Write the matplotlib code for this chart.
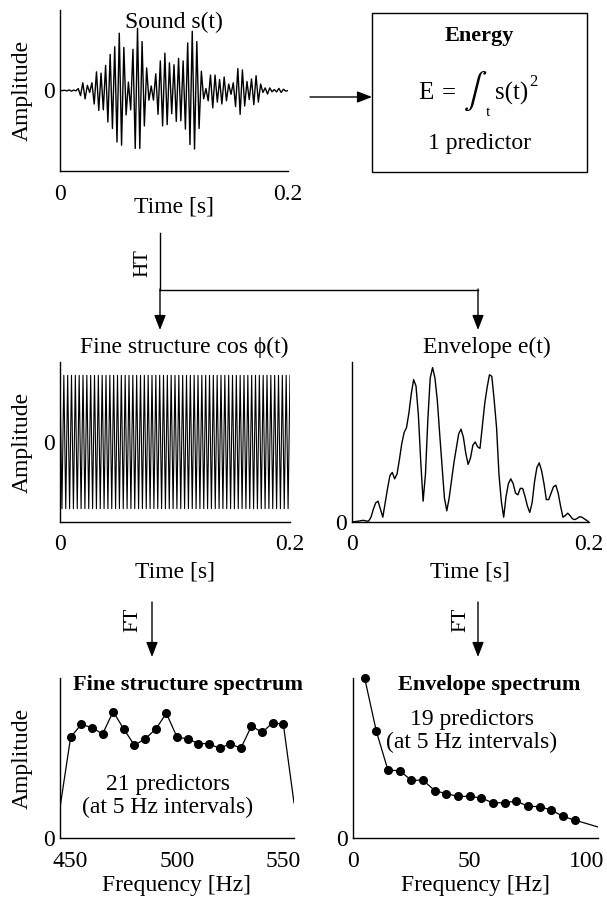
import numpy as np
import matplotlib
matplotlib.use('Agg')
import matplotlib.pyplot as plt
from matplotlib.patches import Rectangle, FancyArrowPatch

plt.rcParams['font.family'] = ['Liberation Serif', 'DejaVu Serif']
plt.rcParams['mathtext.fontset'] = 'stix'

W, H = 607, 897

# envelope e(t), read every 2 ms from 0 to 0.2 s
env_t = np.linspace(0, 0.2, 101)
env_vals = [0, 0.002, 0.004, 0.006, 0.009, 0.010, 0.006, 0.005, 0.03, 0.08,
            0.12, 0.13, 0.08, 0.03, 0.12, 0.21, 0.29, 0.31, 0.27, 0.30,
            0.39, 0.49, 0.56, 0.59, 0.68, 0.80, 0.89, 0.85, 0.67, 0.38,
            0.13, 0.30, 0.64, 0.90, 0.965, 0.90, 0.76, 0.55, 0.35, 0.15,
            0.07, 0.15, 0.26, 0.37, 0.46, 0.55, 0.58, 0.53, 0.43, 0.36,
            0.40, 0.48, 0.50, 0.47, 0.46, 0.60, 0.74, 0.84, 0.92, 0.91,
            0.76, 0.59, 0.30, 0.13, 0.03, 0.16, 0.24, 0.27, 0.24, 0.18,
            0.17, 0.21, 0.21, 0.16, 0.10, 0.06, 0.12, 0.25, 0.34, 0.37,
            0.32, 0.24, 0.14, 0.14, 0.18, 0.22, 0.23, 0.18, 0.10, 0.03,
            0.04, 0.055, 0.04, 0.02, 0.015, 0.022, 0.033, 0.03, 0.02, 0.01,
            0]
sound_gain = 0.8

# fine structure: unit amplitude, cycles drawn over 0.2 s
fine_cycles = 60

# spectra
fs_freq = [445, 450, 455, 460, 465, 470, 475, 480, 485, 490, 495, 500,
           505, 510, 515, 520, 525, 530, 535, 540, 545, 550, 555]
fs_amp = [0.19, 0.63, 0.71, 0.69, 0.65, 0.79, 0.68, 0.58, 0.62, 0.68, 0.78,
          0.63, 0.62, 0.59, 0.59, 0.56, 0.59, 0.56, 0.70, 0.66, 0.72, 0.71,
          0.22]
es_freq = [5, 10, 15, 20, 25, 30, 35, 40, 45, 50, 55, 60, 65, 70, 75, 80,
           85, 90, 95, 105]
es_amp = [1.0, 0.667, 0.423, 0.421, 0.36, 0.362, 0.296, 0.277, 0.26, 0.26,
          0.25, 0.219, 0.221, 0.231, 0.198, 0.196, 0.175, 0.135, 0.112, 0.069]

env = np.array(env_vals)
sign = np.where(np.arange(len(env)) % 2 == 0, 1, -1)
sound = sound_gain * env * sign
fine_t = np.linspace(0, 0.2, 2 * fine_cycles + 1)
fine = np.where(np.arange(len(fine_t)) % 2 == 0, 1, -1)

fig = plt.figure(figsize=(W / 100, H / 100), dpi=100)


def add_ax(l, t, r, b):
    return fig.add_axes([l / W, 1 - b / H, (r - l) / W, (b - t) / H])


def style(ax, xt, xl, xlab, lab_off, amp=True):
    for s in ['top', 'right']:
        ax.spines[s].set_visible(False)
    for s in ['left', 'bottom']:
        ax.spines[s].set_linewidth(1.0)
    ax.tick_params(length=0, labelsize=17)
    ax.tick_params(axis='x', pad=9)
    ax.tick_params(axis='y', pad=4)
    ax.set_xticks(xt)
    ax.set_xticklabels(xl)
    ax.set_yticks([0])
    ax.set_yticklabels(['0'])
    ax.set_xlabel(xlab, fontsize=17)
    ax.xaxis.label.set_va('center')
    h = ax.get_position().height * H
    ax.xaxis.set_label_coords(0.5, -lab_off / h)
    if amp:
        w = ax.get_position().width * W
        l = ax.get_position().x0 * W
        ax.set_ylabel('Amplitude', fontsize=17)
        ax.yaxis.label.set_va('center')
        ax.yaxis.set_label_coords((22 - l) / w, 0.5)


# Sound
ax1 = add_ax(60, 10, 288, 171)
ax1.plot(env_t, sound, color='black', lw=1.0)
ax1.set_xlim(0, 0.2)
ax1.set_ylim(-1, 1)
style(ax1, [0, 0.2], ['0', '0.2'], 'Time [s]', 36)

# Fine structure
ax2 = add_ax(60, 362, 290, 522)
ax2.plot(fine_t, fine, color='black', lw=0.8)
ax2.set_xlim(0, 0.2)
ax2.set_ylim(-1.2, 1.2)
style(ax2, [0, 0.2], ['0', '0.2'], 'Time [s]', 50)

# Envelope
ax3 = add_ax(352, 362, 589, 522)
ax3.plot(env_t, env, color='black', lw=1.0)
ax3.set_xlim(0, 0.2)
ax3.set_ylim(0, 1)
style(ax3, [0, 0.2], ['0', '0.2'], 'Time [s]', 50, amp=False)

# Fine structure spectrum
ax4 = add_ax(60, 678, 294, 838)
ax4.plot(fs_freq, fs_amp, color='black', lw=0.9)
ax4.plot(fs_freq[1:-1], fs_amp[1:-1], 'o', color='black', ms=5.5, clip_on=False)
ax4.set_xlim(445, 555)
ax4.set_ylim(0, 1)
style(ax4, [450, 500, 550], ['450', '500', '550'], 'Frequency [Hz]', 47)

# Envelope spectrum
ax5 = add_ax(353, 678, 598, 838)
ax5.plot(es_freq, es_amp, color='black', lw=0.9, clip_on=True)
ax5.plot(es_freq[:-1], es_amp[:-1], 'o', color='black', ms=5.5, clip_on=False)
ax5.set_xlim(0, 105)
ax5.set_ylim(0, 1)
style(ax5, [0, 50, 100], ['0', '50', '100'], 'Frequency [Hz]', 47, amp=False)

# overlay for the diagram parts
ov = fig.add_axes([0, 0, 1, 1])
ov.set_xlim(0, W)
ov.set_ylim(H, 0)
ov.axis('off')
ov.patch.set_alpha(0)


def arrow(x0, y0, x1, y1):
    ov.add_patch(FancyArrowPatch((x0, y0), (x1, y1),
                                 arrowstyle='-|>,head_length=0.9,head_width=0.35',
                                 mutation_scale=10, color='black', lw=1.0,
                                 shrinkA=0, shrinkB=0))


ov.text(174, 22, 'Sound s(t)', ha='center', va='center', fontsize=17)

# energy box
ov.add_patch(Rectangle((372, 13), 215, 159, fill=False, ec='black', lw=1.0))
arrow(310, 97, 372, 97)
ov.text(479, 36, 'Energy', ha='center', va='center', fontsize=16,
        fontweight='bold')
ov.text(426, 93, 'E', ha='center', va='center', fontsize=18)
ov.text(449, 93, '=', ha='center', va='center', fontsize=18)
ov.text(475, 91, r'$\int$', ha='center', va='center', fontsize=25)
ov.text(488, 112, 't', ha='center', va='center', fontsize=11)
ov.text(512, 93, 's(t)', ha='center', va='center', fontsize=18)
ov.text(533, 82, '2', ha='center', va='center', fontsize=12)
ov.text(479, 143, '1 predictor', ha='center', va='center', fontsize=17)

# Hilbert transform branches
ov.plot([160, 160], [233, 290], color='black', lw=1.0)
ov.plot([160, 478], [290, 290], color='black', lw=1.0)
arrow(160, 289, 160, 330)
arrow(478, 289, 478, 330)
ov.text(143, 263, 'HT', ha='center', va='center', fontsize=15, rotation=90)

ov.text(184, 347, 'Fine structure cos \u03d5(t)', ha='center', va='center',
        fontsize=17)
ov.text(487, 347, 'Envelope e(t)', ha='center', va='center', fontsize=17)

# Fourier transforms
arrow(152, 602, 152, 657)
arrow(478, 602, 478, 657)
ov.text(133, 620, 'FT', ha='center', va='center', fontsize=15, rotation=90)
ov.text(461, 620, 'FT', ha='center', va='center', fontsize=15, rotation=90)

ov.text(188, 685, 'Fine structure spectrum', ha='center', va='center',
        fontsize=16, fontweight='bold')
ov.text(489, 685, 'Envelope spectrum', ha='center', va='center',
        fontsize=16, fontweight='bold')
ov.text(168, 796, '21 predictors\n(at 5 Hz intervals)', ha='center',
        va='center', fontsize=17, linespacing=1.15)
ov.text(472, 731, '19 predictors\n(at 5 Hz intervals)', ha='center',
        va='center', fontsize=17, linespacing=1.15)

fig.savefig('out.png', dpi=100)
